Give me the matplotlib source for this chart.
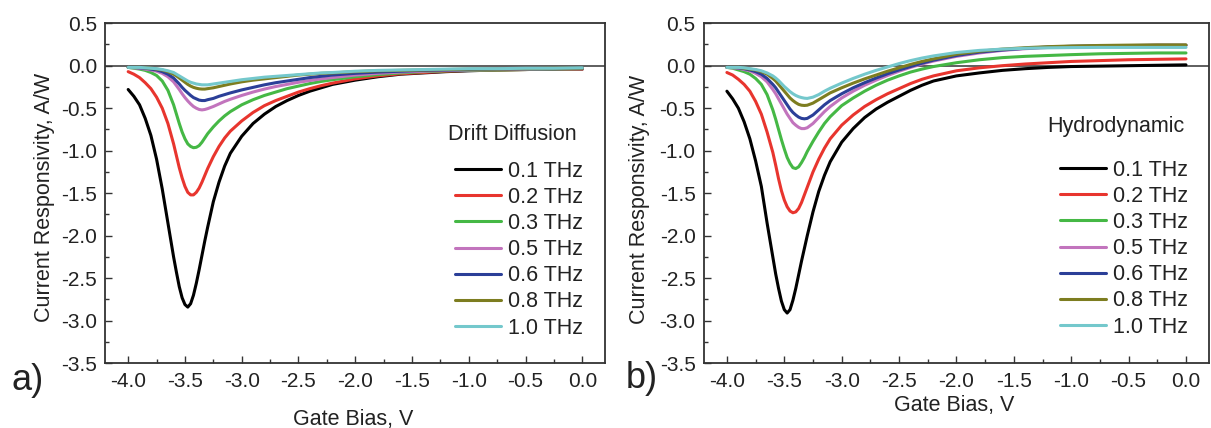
import matplotlib
matplotlib.use("Agg")
import matplotlib.pyplot as plt
from matplotlib.ticker import MultipleLocator, FormatStrFormatter

plt.rcParams['font.family'] = ['Liberation Sans', 'DejaVu Sans']

# ---------------- data ----------------
gate_bias = [-4.0, -3.95, -3.9, -3.85, -3.8, -3.75, -3.7, -3.65, -3.6, -3.575, -3.55, -3.525,
             -3.5, -3.475, -3.45, -3.425, -3.4, -3.375, -3.35, -3.325, -3.3, -3.25, -3.2, -3.15,
             -3.1, -3.0, -2.9, -2.8, -2.7, -2.6, -2.5, -2.4, -2.3, -2.2, -2.0, -1.8,
             -1.6, -1.4, -1.2, -1.0, -0.75, -0.5, -0.25, 0.0]

freq_labels = ["0.1 THz", "0.2 THz", "0.3 THz", "0.5 THz", "0.6 THz", "0.8 THz", "1.0 THz"]
colors = ["#000000", "#e8352e", "#45b845", "#c274bd", "#2b3f98", "#7d7d20", "#74c8cc"]

# Drift diffusion
dd_01 = [-0.28, -0.36, -0.46, -0.62, -0.82, -1.1, -1.45, -1.85, -2.25, -2.43, -2.6, -2.73,
         -2.81, -2.84, -2.8, -2.7, -2.56, -2.4, -2.23, -2.06, -1.9, -1.6, -1.37, -1.18,
         -1.03, -0.83, -0.68, -0.57, -0.48, -0.41, -0.35, -0.3, -0.26, -0.22, -0.17, -0.13,
         -0.1, -0.085, -0.07, -0.06, -0.05, -0.045, -0.04, -0.04]
dd_02 = [-0.07, -0.1, -0.14, -0.2, -0.27, -0.37, -0.5, -0.68, -0.92, -1.06, -1.2, -1.32,
         -1.42, -1.49, -1.52, -1.52, -1.49, -1.44, -1.37, -1.29, -1.21, -1.07, -0.95, -0.85,
         -0.77, -0.65, -0.55, -0.47, -0.41, -0.36, -0.31, -0.27, -0.235, -0.205, -0.155, -0.12,
         -0.095, -0.08, -0.065, -0.055, -0.05, -0.045, -0.04, -0.04]
dd_03 = [-0.02, -0.03, -0.04, -0.055, -0.08, -0.115, -0.18, -0.29, -0.46, -0.57, -0.68, -0.78,
         -0.86, -0.92, -0.95, -0.965, -0.96, -0.94, -0.9, -0.85, -0.8, -0.72, -0.65, -0.59,
         -0.54, -0.46, -0.4, -0.35, -0.31, -0.27, -0.24, -0.21, -0.185, -0.165, -0.13, -0.105,
         -0.085, -0.07, -0.06, -0.055, -0.05, -0.045, -0.04, -0.035]
dd_05 = [-0.02, -0.025, -0.03, -0.04, -0.05, -0.065, -0.09, -0.13, -0.19, -0.235, -0.28, -0.33,
         -0.375, -0.415, -0.45, -0.48, -0.5, -0.515, -0.52, -0.515, -0.505, -0.48, -0.45, -0.42,
         -0.395, -0.35, -0.31, -0.275, -0.245, -0.22, -0.195, -0.175, -0.155, -0.14, -0.11, -0.09,
         -0.075, -0.065, -0.055, -0.05, -0.045, -0.04, -0.035, -0.035]
dd_06 = [-0.02, -0.02, -0.025, -0.03, -0.04, -0.05, -0.07, -0.1, -0.145, -0.18, -0.215, -0.255,
         -0.29, -0.32, -0.35, -0.375, -0.39, -0.405, -0.41, -0.41, -0.4, -0.385, -0.36, -0.34,
         -0.32, -0.285, -0.255, -0.225, -0.2, -0.18, -0.16, -0.14, -0.125, -0.11, -0.09, -0.075,
         -0.065, -0.055, -0.05, -0.045, -0.04, -0.035, -0.035, -0.03]
dd_08 = [-0.02, -0.02, -0.02, -0.025, -0.03, -0.04, -0.05, -0.07, -0.1, -0.12, -0.145, -0.17,
         -0.195, -0.22, -0.24, -0.255, -0.265, -0.272, -0.275, -0.275, -0.27, -0.26, -0.245, -0.23,
         -0.215, -0.19, -0.17, -0.155, -0.14, -0.125, -0.11, -0.1, -0.09, -0.085, -0.07, -0.06,
         -0.055, -0.05, -0.045, -0.04, -0.04, -0.035, -0.03, -0.03]
dd_10 = [-0.02, -0.02, -0.02, -0.025, -0.03, -0.035, -0.045, -0.06, -0.08, -0.1, -0.12, -0.14,
         -0.16, -0.18, -0.195, -0.205, -0.215, -0.22, -0.225, -0.225, -0.225, -0.215, -0.205, -0.195,
         -0.185, -0.165, -0.15, -0.135, -0.125, -0.115, -0.105, -0.095, -0.085, -0.08, -0.065, -0.055,
         -0.05, -0.045, -0.04, -0.035, -0.035, -0.03, -0.03, -0.025]

# Hydrodynamic
hd_01 = [-0.3, -0.39, -0.5, -0.66, -0.86, -1.12, -1.42, -1.85, -2.25, -2.45, -2.62, -2.77,
         -2.87, -2.91, -2.87, -2.76, -2.62, -2.46, -2.3, -2.15, -2.0, -1.72, -1.48, -1.29,
         -1.13, -0.9, -0.74, -0.61, -0.51, -0.43, -0.36, -0.29, -0.23, -0.18, -0.12, -0.085,
         -0.055, -0.035, -0.02, -0.01, -0.005, 0.0, 0.005, 0.01]
hd_02 = [-0.08, -0.11, -0.16, -0.22, -0.3, -0.42, -0.57, -0.78, -1.02, -1.17, -1.33, -1.47,
         -1.58, -1.66, -1.71, -1.73, -1.72, -1.68, -1.61, -1.52, -1.43, -1.25, -1.1, -0.97,
         -0.86, -0.7, -0.58, -0.48, -0.4, -0.33, -0.27, -0.21, -0.16, -0.12, -0.06, -0.025,
         0.0, 0.02, 0.035, 0.05, 0.06, 0.07, 0.075, 0.08]
hd_03 = [-0.02, -0.03, -0.05, -0.07, -0.1, -0.15, -0.22, -0.34, -0.52, -0.63, -0.75, -0.87,
         -0.98, -1.08, -1.15, -1.2, -1.21, -1.19, -1.14, -1.08, -1.01, -0.89, -0.78, -0.68,
         -0.6, -0.47, -0.38, -0.3, -0.23, -0.17, -0.12, -0.075, -0.04, -0.01, 0.035, 0.07,
         0.095, 0.11, 0.12, 0.13, 0.14, 0.145, 0.15, 0.15]
hd_05 = [-0.02, -0.025, -0.03, -0.045, -0.06, -0.09, -0.13, -0.19, -0.28, -0.33, -0.39, -0.45,
         -0.51, -0.57, -0.62, -0.67, -0.7, -0.725, -0.74, -0.74, -0.73, -0.68, -0.61, -0.54,
         -0.48, -0.38, -0.3, -0.23, -0.17, -0.115, -0.065, -0.02, 0.02, 0.055, 0.11, 0.15,
         0.18, 0.2, 0.215, 0.225, 0.23, 0.235, 0.24, 0.24]
hd_06 = [-0.02, -0.02, -0.025, -0.035, -0.05, -0.07, -0.1, -0.15, -0.22, -0.26, -0.31, -0.36,
         -0.41, -0.46, -0.51, -0.55, -0.58, -0.605, -0.62, -0.625, -0.62, -0.58, -0.52, -0.46,
         -0.41, -0.33, -0.26, -0.2, -0.145, -0.095, -0.05, -0.01, 0.03, 0.065, 0.12, 0.16,
         0.185, 0.205, 0.22, 0.228, 0.233, 0.237, 0.24, 0.24]
hd_08 = [-0.02, -0.02, -0.02, -0.03, -0.04, -0.05, -0.07, -0.1, -0.15, -0.18, -0.22, -0.26,
         -0.3, -0.34, -0.38, -0.41, -0.435, -0.455, -0.465, -0.468, -0.465, -0.44, -0.4, -0.36,
         -0.32, -0.26, -0.205, -0.155, -0.11, -0.065, -0.025, 0.015, 0.05, 0.08, 0.135, 0.17,
         0.195, 0.212, 0.224, 0.232, 0.238, 0.242, 0.245, 0.245]
hd_10 = [-0.02, -0.02, -0.02, -0.025, -0.035, -0.045, -0.06, -0.085, -0.12, -0.145, -0.175, -0.21,
         -0.245, -0.275, -0.305, -0.33, -0.35, -0.365, -0.375, -0.382, -0.385, -0.37, -0.34, -0.3,
         -0.265, -0.205, -0.15, -0.1, -0.055, -0.015, 0.025, 0.06, 0.09, 0.115, 0.155, 0.18,
         0.195, 0.205, 0.21, 0.213, 0.215, 0.215, 0.215, 0.215]

dd_series = [dd_01, dd_02, dd_03, dd_05, dd_06, dd_08, dd_10]
hd_series = [hd_01, hd_02, hd_03, hd_05, hd_06, hd_08, hd_10]

# ---------------- figure ----------------
fig = plt.figure(figsize=(12.11, 4.28), dpi=100)
ax1 = fig.add_axes([0.0871, 0.1514, 0.4125, 0.7944])
ax2 = fig.add_axes([0.5813, 0.1514, 0.4170, 0.7944])

spine_col = "#333333"
txt_col = "#222222"
FS = 15.5

def style(ax, series, title, ylab_x, ylab_y, xlab_y, leg_x, leg_y, title_x, title_y):
    ax.axhline(0, color=spine_col, lw=1.1, zorder=1)
    for ys, c, lab in zip(series, colors, freq_labels):
        ax.plot(gate_bias, ys, color=c, lw=2.2, label=lab, zorder=2,
                solid_joinstyle='round', solid_capstyle='round')
    ax.set_xlim(-4.2, 0.2)
    ax.set_ylim(-3.5, 0.5)
    ax.xaxis.set_major_locator(MultipleLocator(0.5))
    ax.xaxis.set_minor_locator(MultipleLocator(0.25))
    ax.yaxis.set_major_locator(MultipleLocator(0.5))
    ax.yaxis.set_minor_locator(MultipleLocator(0.25))
    ax.xaxis.set_major_formatter(FormatStrFormatter('%.1f'))
    ax.yaxis.set_major_formatter(FormatStrFormatter('%.1f'))
    ax.tick_params(which='both', direction='in', top=False, right=False,
                   colors=spine_col, labelcolor=txt_col, width=1.0)
    ax.tick_params(which='major', length=5, labelsize=15, pad=6)
    ax.tick_params(which='minor', length=3)
    for s in ax.spines.values():
        s.set_color(spine_col)
        s.set_linewidth(1.3)
    ax.set_xlabel("Gate Bias, V", fontsize=FS, color=txt_col)
    ax.set_ylabel("Current Responsivity, A/W", fontsize=FS, color=txt_col,
                  va='center', ha='center')
    ax.yaxis.set_label_coords(ylab_x, ylab_y)
    ax.xaxis.set_label_coords(0.495, xlab_y)
    ax.xaxis.label.set_va('center')
    leg = ax.legend(loc='upper left', bbox_to_anchor=(leg_x, leg_y), frameon=False,
                    fontsize=FS, handlelength=2.14, handletextpad=0.31,
                    labelspacing=0.24, borderpad=0, borderaxespad=0)
    for t in leg.get_texts():
        t.set_color(txt_col)
    ax.text(title_x, title_y, title, transform=ax.transAxes, fontsize=FS,
            ha='center', va='center', color=txt_col)

style(ax1, dd_series, "Drift Diffusion", -0.122, 0.489, -0.165, 0.70, 0.596, 0.814, 0.674)
style(ax2, hd_series, "Hydrodynamic", -0.128, 0.483, -0.125, 0.705, 0.599, 0.816, 0.696)

fig.text(28 / 1211, 1 - 380 / 428, "a)", fontsize=26, ha='center', va='center', color=txt_col)
fig.text(642 / 1211, 1 - 378 / 428, "b)", fontsize=26, ha='center', va='center', color=txt_col)

fig.savefig("out.png", dpi=100)
